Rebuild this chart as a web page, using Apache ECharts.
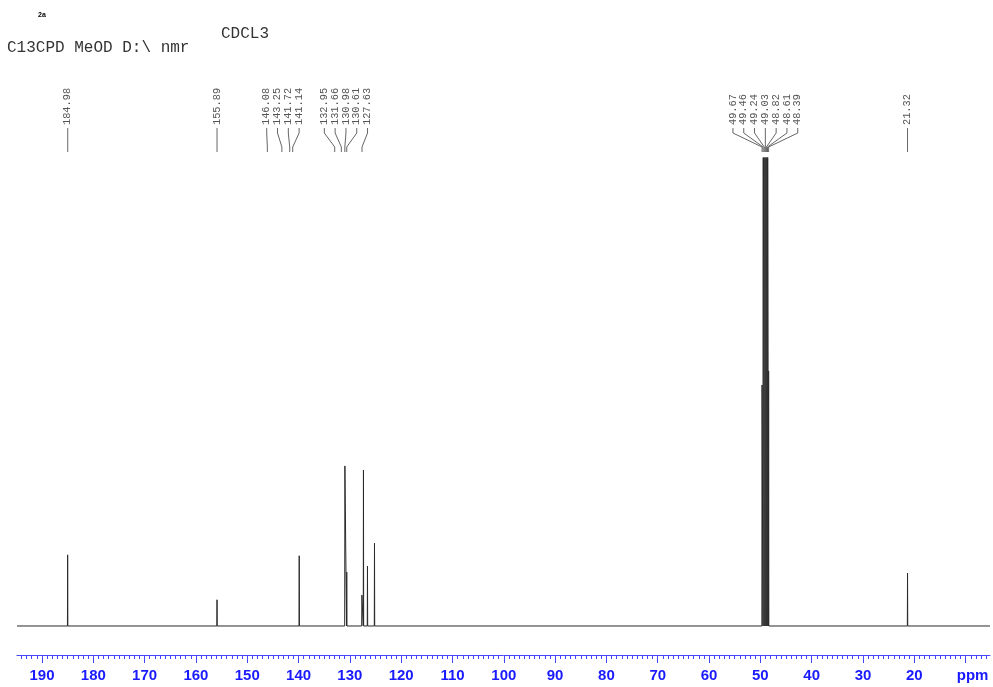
<!DOCTYPE html>
<html><head><meta charset="utf-8">
<script src="https://cdn.jsdelivr.net/npm/echarts@6/dist/echarts.min.js"></script>
<style>html,body{margin:0;padding:0;background:#fff}#c{width:993px;height:687px}</style>
</head><body><div id="c"></div>
<script>
// ---- data ----
const peakShifts  = [21.32, 48.39, 48.61, 48.82, 49.03, 49.24, 49.46, 49.67, 125.20, 126.57, 127.35, 127.66, 130.61, 130.97, 139.87, 155.89, 185.00];
const peakHeights = [11.3,  54.5,  160,   320,   380,   320,   160,   51.5,  17.7,   12.8,   33.3,   6.6,    11.5,   34.2,   15.0,   5.6,    15.2];
const labelShifts = [184.98, 155.89, 146.08, 143.25, 141.72, 141.14, 132.95, 131.66, 130.98, 130.61, 127.63, 49.67, 49.46, 49.24, 49.03, 48.82, 48.61, 48.39, 21.32];
const xMajorTicks = [190, 180, 170, 160, 150, 140, 130, 120, 110, 100, 90, 80, 70, 60, 50, 40, 30, 20, 10];
const xMinorTicks = [];
for (let v = 6; v <= 194; v++) { if (v % 10 !== 0) xMinorTicks.push(v); }
const xRange = [5.25, 194.87];
const yRange = [-6.2, 100];
const peakHalfWidth = 0.04;

// build the spectrum polyline from the peak list
const order = peakShifts.map((s, i) => i).sort((a, b) => peakShifts[a] - peakShifts[b]);
const spec = [[xRange[0], 0]];
order.forEach(i => {
  spec.push([peakShifts[i] - peakHalfWidth, 0]);
  spec.push([peakShifts[i], peakHeights[i]]);
  spec.push([peakShifts[i] + peakHalfWidth, 0]);
});
spec.push([xRange[1], 0]);

const axisBlue = '#4646ff';
const labelBlue = '#1a1aff';

const chart = echarts.init(document.getElementById('c'), null, {renderer: 'canvas'});
chart.setOption({
  animation: false,
  backgroundColor: '#fff',
  grid: {left: 17, right: 3, top: 158, bottom: 32, containLabel: false},
  xAxis: [{
    type: 'value', min: xRange[0], max: xRange[1], inverse: true, position: 'bottom',
    splitLine: {show: false},
    axisLine: {show: true, onZero: false, lineStyle: {color: axisBlue, width: 1}},
    axisTick: {show: true, customValues: xMajorTicks, length: 8, inside: false, lineStyle: {color: axisBlue, width: 1}},
    axisLabel: {
      show: true, customValues: xMajorTicks, margin: 13, hideOverlap: false,
      color: labelBlue, fontFamily: 'Liberation Sans, Arial, sans-serif', fontWeight: 'bold', fontSize: 15,
      formatter: v => v === 10 ? '{p|ppm}' : String(v),
      rich: {p: {color: labelBlue, fontFamily: 'Liberation Sans, Arial, sans-serif', fontWeight: 'bold', fontSize: 15, padding: [0, 0, 0, 14]}}
    }
  }, {
    type: 'value', min: xRange[0], max: xRange[1], inverse: true, position: 'bottom', gridIndex: 0,
    splitLine: {show: false},
    axisLine: {show: false, onZero: false},
    axisTick: {show: true, customValues: xMinorTicks, length: 4, lineStyle: {color: axisBlue, width: 1}},
    axisLabel: {show: false}
  }],
  yAxis: {type: 'value', min: yRange[0], max: yRange[1], show: false, splitLine: {show: false}},
  series: [{
    type: 'line', xAxisIndex: 0, data: spec, showSymbol: false, symbol: 'none', clip: true,
    sampling: null, smooth: false,
    lineStyle: {color: '#2a2a2a', width: 1}
  }]
});

// ---- peak labels with leader lines (positions from the x scale) ----
const toPx = v => chart.convertToPixel({xAxisIndex: 0}, v);
const feet = labelShifts.map(s => ({s: s, fx: toPx(s)})).sort((a, b) => a.fx - b.fx);
const gap = 10.8;
let clusters = feet.map(f => ({items: [f]}));
function place(c) {
  const m = c.items.reduce((a, f) => a + f.fx, 0) / c.items.length;
  c.start = m - (c.items.length - 1) / 2 * gap;
  c.end = c.start + (c.items.length - 1) * gap;
}
clusters.forEach(place);
let merged = true;
while (merged) {
  merged = false;
  for (let i = 0; i < clusters.length - 1; i++) {
    if (clusters[i].end + gap > clusters[i + 1].start) {
      clusters[i].items = clusters[i].items.concat(clusters[i + 1].items);
      clusters.splice(i + 1, 1);
      place(clusters[i]);
      merged = true;
      break;
    }
  }
}
const graphics = [];
clusters.forEach(c => {
  c.items.forEach((f, k) => {
    const lx = c.start + k * gap;
    graphics.push({
      type: 'text', x: lx, y: 125, rotation: Math.PI / 2, silent: true,
      style: {text: f.s.toFixed(2), fill: '#555', font: '10.3px "Liberation Mono", monospace', textAlign: 'left', textVerticalAlign: 'middle'}
    });
    graphics.push({
      type: 'polyline', silent: true,
      shape: {points: [[lx, 128], [lx, 133], [f.fx, 147], [f.fx, 152]]},
      style: {stroke: '#666', lineWidth: 1, fill: null}
    });
  });
});
graphics.push({type: 'text', x: 38, y: 15, silent: true,
  style: {text: '2a', fill: '#000', font: 'bold 7px "Liberation Sans", Arial, sans-serif', textVerticalAlign: 'middle'}});
graphics.push({type: 'text', x: 221, y: 34, silent: true,
  style: {text: 'CDCL3', fill: '#333', font: '16px "Liberation Mono", monospace', textVerticalAlign: 'middle'}});
graphics.push({type: 'text', x: 7, y: 48, silent: true,
  style: {text: 'C13CPD MeOD D:\\ nmr', fill: '#333', font: '16px "Liberation Mono", monospace', textVerticalAlign: 'middle'}});
chart.setOption({graphic: graphics});
</script>
</body></html>
